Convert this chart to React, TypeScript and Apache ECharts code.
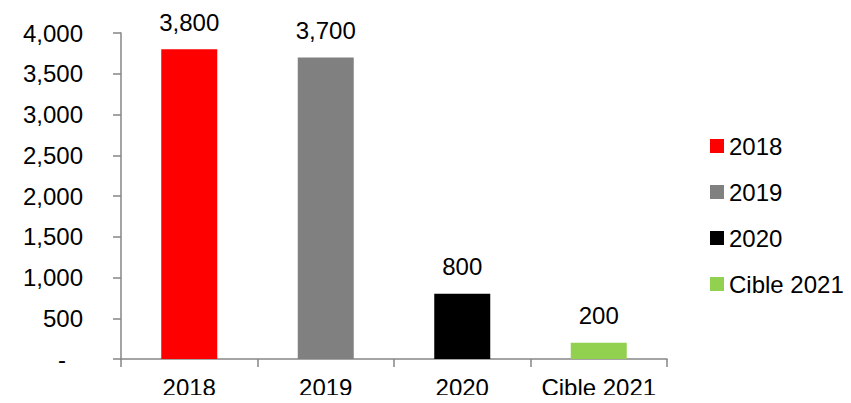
import React, { useEffect, useRef } from "react";
import * as echarts from "echarts";

const categories = ["2018", "2019", "2020", "Cible 2021"];
const seriesNames = ["2018", "2019", "2020", "Cible 2021"];
const values = [3800, 3700, 800, 200];
const colors = ["#FF0000", "#808080", "#000000", "#92D050"];
const yTicks = [0, 500, 1000, 1500, 2000, 2500, 3000, 3500, 4000];

const fmt = (v: number) => v.toLocaleString("en-US");
const FONT = "'Liberation Sans', Arial, sans-serif";
const FS = 24;

export default function App() {
  const ref = useRef<HTMLDivElement>(null);
  useEffect(() => {
    if (!ref.current) return;
    const chart = echarts.init(ref.current, undefined, { renderer: "svg" });
    chart.setOption({
      animation: false,
      textStyle: { fontFamily: FONT },
      grid: { left: 121, right: 184, top: 33, bottom: 44, containLabel: false },
      legend: {
        orient: "vertical",
        left: 705,
        top: 129,
        itemWidth: 14,
        itemHeight: 14,
        itemGap: 22,
        icon: "rect",
        textStyle: { fontSize: FS, color: "#000", fontFamily: FONT },
        data: seriesNames,
      },
      xAxis: {
        type: "category",
        data: categories,
        axisLine: { lineStyle: { color: "#868686", width: 1.5 } },
        axisTick: { show: true, length: 8, alignWithLabel: false, lineStyle: { color: "#868686", width: 1.5 } },
        axisLabel: { interval: 0, fontSize: FS, color: "#000", margin: 16, fontFamily: FONT },
      },
      yAxis: {
        type: "value",
        min: yTicks[0],
        max: yTicks[yTicks.length - 1],
        interval: 500,
        splitLine: { show: false },
        axisLine: { show: true, lineStyle: { color: "#868686", width: 1.5 } },
        axisTick: { show: true, length: 8, lineStyle: { color: "#868686", width: 1.5 } },
        axisLabel: {
          fontSize: FS,
          color: "#000",
          margin: 38,
          fontFamily: FONT,
          formatter: (v: number) => (v === 0 ? "{d|-}" : fmt(v)),
          rich: { d: { fontSize: FS, color: "#000", padding: [0, 17, 0, 0], fontFamily: FONT } },
        },
      },
      series: seriesNames.map((name, i) => ({
        name,
        type: "bar",
        stack: "total",
        barWidth: 56,
        itemStyle: { color: colors[i] },
        label: {
          show: true,
          position: "top",
          distance: 15,
          fontSize: FS,
          color: "#000",
          fontFamily: FONT,
          formatter: (p: any) => fmt(p.value),
        },
        data: categories.map((_, j) => (j === i ? values[i] : null)),
      })),
    });
    return () => chart.dispose();
  }, []);
  return <div ref={ref} style={{ width: 851, height: 403, margin: -8 }} />;
}
